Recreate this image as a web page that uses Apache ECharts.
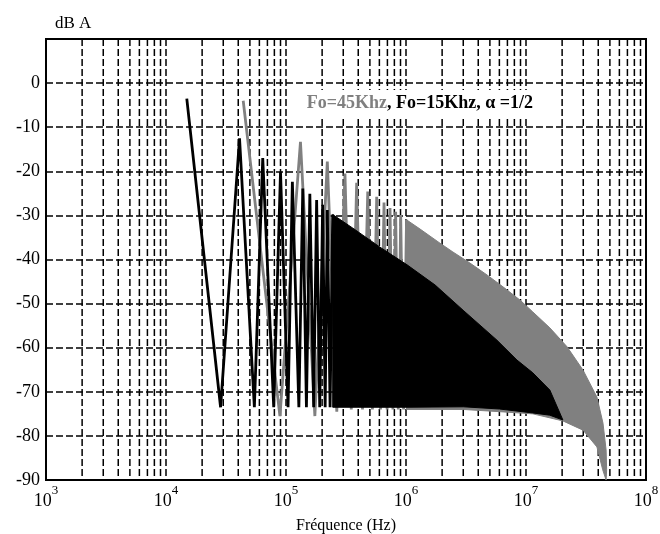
<!DOCTYPE html>
<html><head><meta charset="utf-8">
<script src="https://cdn.jsdelivr.net/npm/echarts@6/dist/echarts.min.js"></script>
<style>html,body{margin:0;padding:0;background:#fff}#c{width:660px;height:534px}</style>
</head><body><div id="c"></div>
<script>
const FONT = '"Liberation Serif","Times New Roman",serif';

// Fo = 15 kHz : distinct zigzag teeth (frequency Hz, level dB)
const blackFreq = [14900, 28500, 41000, 54500, 64000, 79000, 90000, 104000, 113000, 128000, 138000, 148000, 158000, 170000, 180000, 191000, 202000, 212000, 221000, 233000, 245000];
const blackDb   = [-3.5, -73.5, -12.5, -73.5, -17, -73.5, -20.1, -73.5, -22.4, -73.5, -23.9, -73.5, -25.1, -73.5, -26.5, -73.5, -27.6, -73.5, -28.8, -73.5, -29.8];
// Fo = 15 kHz : dense region envelopes
const blackTopFreq = [245000, 361000, 607000, 1020000, 1750000, 2990000, 5730000, 8410000, 11400000, 15800000, 20300000];
const blackTopDb   = [-29.8, -32.9, -37.2, -41.2, -45.8, -51.5, -58.3, -62.8, -65.7, -69.6, -76.4];
const blackBotFreq = [245000, 1000000, 3000000, 6000000, 11400000, 15800000, 20300000];
const blackBotDb   = [-73.5, -73.5, -73.4, -73.9, -74.8, -75.3, -76.4];

// Fo = 45 kHz : distinct zigzag teeth
const greyFreq = [44000, 89000, 132000, 174000, 221000, 265000, 310000, 350000, 388000, 434000, 480000, 525000, 570000, 613000, 656000, 696000, 736000, 778000, 820000, 862000, 903000, 955000, 1010000];
const greyDb   = [-4, -75.5, -13.3, -75.5, -17.8, -74.5, -20.5, -74, -22.6, -74, -24.6, -74, -25.8, -74, -27.1, -74, -28.3, -74, -29.2, -74, -29.9, -74, -31];
// Fo = 45 kHz : dense region envelopes
const greyTopFreq = [1010000, 1310000, 1920000, 2460000, 3410000, 4730000, 6430000, 8910000, 11400000, 15800000, 22000000, 29900000, 39000000, 43800000, 46500000, 47000000, 46500000];
const greyTopDb   = [-31, -33.1, -36.3, -38.3, -40.8, -43.5, -46.2, -49.2, -51.9, -55.5, -59.8, -65.1, -71.2, -77.1, -83.2, -87.7, -90];
const greyBotFreq = [1010000, 3000000, 6000000, 11400000, 20300000, 29900000, 39000000, 43600000, 46500000];
const greyBotDb   = [-74, -74, -74.5, -75, -76.6, -78.7, -82.5, -87.7, -90];

// minor vertical grid frequencies
const minorGridFreqs = [];
[1e3, 1e4, 1e5, 1e6, 1e7].forEach(d => { for (let k = 2; k <= 9; k++) minorGridFreqs.push(k * d); });

const Y_MIN = -90, Y_MAX = 10, Y_STEP = 10;
const X_MIN = 1e3, X_MAX = 1e8;

const LEGEND_A = 'Fo=45Khz';
const LEGEND_B = ', Fo=15Khz, α =1/2';

const chart = echarts.init(document.getElementById('c'), null, {renderer: 'canvas'});

function bandSeries(topF, topV, botF, botV, color, z) {
  return {
    type: 'custom', z: z, silent: true, clip: true,
    data: [[topF[0], topV[0]]],
    renderItem: (params, api) => {
      const pts = [];
      for (let i = 0; i < topF.length; i++) pts.push(api.coord([topF[i], topV[i]]));
      for (let i = botF.length - 1; i >= 0; i--) pts.push(api.coord([botF[i], botV[i]]));
      return {type: 'polygon', shape: {points: pts}, style: {fill: color, stroke: color, lineWidth: 1}};
    }
  };
}

const gridDash = {type: [7, 3], color: '#000', width: 1.5};
const legendStyle = {fontFamily: FONT, fontSize: 18, fontWeight: 'bold', textVerticalAlign: 'middle', verticalAlign: 'middle',
                     backgroundColor: '#fff', padding: [4, 0, 4, 0]};

const option = {
  animation: false,
  backgroundColor: '#fff',
  grid: {left: 46, right: 14, top: 39, bottom: 54, show: true, borderColor: '#000', borderWidth: 2,
         backgroundColor: 'transparent', containLabel: false, outerBoundsMode: 'none'},
  xAxis: {
    type: 'log', logBase: 10, min: X_MIN, max: X_MAX, splitNumber: 5,
    axisLine: {show: true, onZero: false, lineStyle: {color: '#000', width: 2}},
    axisTick: {show: false},
    splitLine: {show: true, lineStyle: gridDash},
    axisLabel: {
      margin: 4,
      formatter: v => '{b|10}{s|' + Math.round(Math.log10(v)) + '}',
      rich: {
        b: {fontFamily: FONT, fontSize: 18, color: '#000', lineHeight: 26, verticalAlign: 'bottom'},
        s: {fontFamily: FONT, fontSize: 13, color: '#000', lineHeight: 13, verticalAlign: 'top'}
      }
    },
    name: 'Fréquence (Hz)', nameLocation: 'middle', nameGap: 38,
    nameTextStyle: {fontFamily: FONT, fontSize: 16, color: '#000'}
  },
  yAxis: {
    type: 'value', min: Y_MIN, max: Y_MAX, interval: Y_STEP,
    axisLine: {show: true, onZero: false, lineStyle: {color: '#000', width: 2}},
    axisTick: {show: false},
    splitLine: {show: true, lineStyle: gridDash},
    axisLabel: {
      margin: 6, fontFamily: FONT, fontSize: 18, color: '#000',
      formatter: v => (v === Y_MAX ? '' : String(v))
    }
  },
  graphic: [
    {type: 'text', left: 55, top: 15, z: 100, style: {text: 'dB A', fontFamily: FONT, fontSize: 17, fill: '#000'}},
    {type: 'text', x: 387, y: 103, z: 100, style: Object.assign({text: LEGEND_A, fill: '#808080', textAlign: 'right', align: 'right'}, legendStyle)},
    {type: 'text', x: 387, y: 103, z: 100, style: Object.assign({text: LEGEND_B, fill: '#000', textAlign: 'left', align: 'left'}, legendStyle)}
  ],
  series: [
    {
      type: 'custom', z: 1, silent: true,
      data: minorGridFreqs.map(f => [f, 0]),
      renderItem: (params, api) => {
        const f = api.value(0);
        const a = api.coord([f, Y_MAX]);
        const b = api.coord([f, Y_MIN]);
        return {type: 'line', shape: {x1: a[0], y1: a[1], x2: b[0], y2: b[1]}, style: {stroke: '#000', lineWidth: 1.5, lineDash: [7, 3]}};
      }
    },
    {
      type: 'line', z: 2, silent: true, symbol: 'none',
      data: greyFreq.map((f, i) => [f, greyDb[i]]),
      lineStyle: {color: '#808080', width: 2.8}
    },
    bandSeries(greyTopFreq, greyTopDb, greyBotFreq, greyBotDb, '#808080', 3),
    {
      type: 'line', z: 4, silent: true, symbol: 'none',
      data: blackFreq.map((f, i) => [f, blackDb[i]]),
      lineStyle: {color: '#000', width: 2.8}
    },
    bandSeries(blackTopFreq, blackTopDb, blackBotFreq, blackBotDb, '#000', 5)
  ]
};
chart.setOption(option);
</script>
</body></html>
